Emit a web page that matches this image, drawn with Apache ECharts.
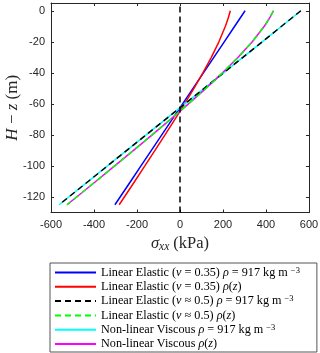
<!DOCTYPE html>
<html>
<head>
<meta charset="utf-8">
<script src="https://cdn.jsdelivr.net/npm/echarts@6/dist/echarts.min.js"></script>
<style>
  html, body { margin: 0; padding: 0; background: #fff; }
  #chart { width: 320px; height: 353px; }
</style>
</head>
<body>
<div id="chart"></div>
<script>
// depth coordinate H - z (m)
var depth = [0, -5, -10, -20, -30, -40, -50, -60, -70, -80, -90, -100, -110, -120, -125];

// sigma_xx (kPa) for each model
var elasticNu035Const = [302.7, 278.5, 254.3, 205.8, 157.4, 109.0, 60.5, 12.1, -36.3, -84.8, -133.2, -181.6, -230.0, -278.5, -302.7];
var elasticNu035Rho = [234.1, 223.7, 211.1, 181.0, 145.6, 106.6, 64.8, 21.2, -23.8, -69.8, -116.5, -163.6, -211.1, -258.9, -282.9];
var elasticNu05Const = [562.2, 517.2, 472.3, 382.3, 292.4, 202.4, 112.4, 22.5, -67.5, -157.5, -247.4, -337.4, -427.3, -517.3, -562.2];
var elasticNu05Rho = [434.8, 415.4, 392.1, 336.1, 270.4, 197.9, 120.4, 39.3, -44.2, -129.6, -216.3, -303.9, -392.1, -480.9, -525.4];
var viscousConst = [562.2, 517.2, 472.3, 382.3, 292.4, 202.4, 112.4, 22.5, -67.5, -157.5, -247.4, -337.4, -427.3, -517.3, -562.2];
var viscousRho = [434.8, 415.4, 392.1, 336.1, 270.4, 197.9, 120.4, 39.3, -44.2, -129.6, -216.3, -303.9, -392.1, -480.9, -525.4];

var xTicks = [-600, -400, -200, 0, 200, 400, 600];
var yTicks = [-120, -100, -80, -60, -40, -20, 0];

var names = [
  "Linear Elastic ({i|ν} = 0.35) {i|ρ} = 917 kg m {sup|−3}",
  "Linear Elastic ({i|ν} = 0.35) {i|ρ}({i|z})",
  "Linear Elastic ({i|ν} ≈ 0.5) {i|ρ} = 917 kg m {sup|−3}",
  "Linear Elastic ({i|ν} ≈ 0.5) {i|ρ}({i|z})",
  "Non-linear Viscous {i|ρ} = 917 kg m {sup|−3}",
  "Non-linear Viscous {i|ρ}({i|z})"
];

function pairs(vals) {
  return vals.map(function (v, i) { return [v, depth[i]]; });
}

var axisCol = "#262626";
var serif = "'Liberation Serif', 'DejaVu Serif', serif";
var sans = "'Liberation Sans', Arial, sans-serif";

function line(name, vals, color, dashed) {
  return {
    name: name,
    type: "line",
    data: pairs(vals),
    showSymbol: false,
    symbol: "none",
    animation: false,
    lineStyle: { color: color, width: 1.5, type: dashed ? [6, 4] : "solid" },
    itemStyle: { color: color }
  };
}

var chart = echarts.init(document.getElementById("chart"));

var blue = line(names[0], elasticNu035Const, "#0000ff", false);
blue.markLine = {
  silent: true,
  symbol: ["none", "none"],
  label: { show: false },
  animation: false,
  lineStyle: { color: "#000", width: 1.5, type: [6, 4] },
  data: [{ xAxis: 0 }]
};

var option = {
  animation: false,
  grid: { left: 51, right: 11, top: 3, height: 209.5, outerBoundsMode: "none", containLabel: false },
  xAxis: [
    {
      type: "value", min: -600, max: 600, interval: 200,
      axisLine: { onZero: false, lineStyle: { color: axisCol, width: 1 } },
      axisTick: { inside: true, length: 3, lineStyle: { color: axisCol } },
      axisLabel: { color: axisCol, fontSize: 11, fontFamily: sans, margin: 7,
        customValues: xTicks },
      splitLine: { show: false },
      name: "{i|σ}{s|xx} (kPa)",
      nameLocation: "middle",
      nameGap: 19,
      nameTextStyle: {
        fontFamily: serif, fontSize: 16.5, color: axisCol,
        rich: {
          i: { fontFamily: serif, fontSize: 16.5, fontStyle: "italic", color: axisCol },
          s: { fontFamily: serif, fontSize: 11.5, fontStyle: "italic", color: axisCol, padding: [6, 0, 0, 0] }
        }
      }
    },
    {
      type: "value", position: "top", min: -600, max: 600, interval: 200,
      axisLine: { onZero: false, lineStyle: { color: axisCol, width: 1 } },
      axisTick: { inside: true, length: 3, lineStyle: { color: axisCol } },
      axisLabel: { show: false },
      splitLine: { show: false }
    }
  ],
  yAxis: [
    {
      type: "value", min: -130, max: 5,
      axisLine: { show: true, onZero: false, lineStyle: { color: axisCol, width: 1 } },
      axisTick: { show: true, inside: true, length: 3, lineStyle: { color: axisCol },
        customValues: yTicks },
      axisLabel: { color: axisCol, fontSize: 11, fontFamily: sans, margin: 6,
        customValues: yTicks },
      splitLine: { show: false },
      name: "{i|H} − {i|z} (m)",
      nameLocation: "middle",
      nameRotate: 90,
      nameGap: 30,
      nameMoveOverlap: false,
      nameTextStyle: {
        fontFamily: serif, fontSize: 17, color: axisCol,
        rich: {
          i: { fontFamily: serif, fontSize: 17, fontStyle: "italic", color: axisCol }
        }
      }
    },
    {
      type: "value", position: "right", min: -130, max: 5,
      axisLine: { show: true, onZero: false, lineStyle: { color: axisCol, width: 1 } },
      axisTick: { show: true, inside: true, length: 3, lineStyle: { color: axisCol },
        customValues: yTicks },
      axisLabel: { show: false },
      splitLine: { show: false }
    }
  ],
  legend: {
    orient: "vertical",
    left: 50,
    top: 263,
    height: 90,
    padding: [3, 17, 2, 4],
    itemWidth: 41,
    itemHeight: 10,
    itemGap: 1.8,
    selectedMode: false,
    borderColor: "#555",
    borderWidth: 1,
    backgroundColor: "#fff",
    itemStyle: { opacity: 0 },
    data: names,
    textStyle: {
      fontFamily: serif, fontSize: 12.2, color: "#000", lineHeight: 10,
      rich: {
        i: { fontFamily: serif, fontSize: 12.2, fontStyle: "italic", color: "#000", lineHeight: 10 },
        sup: { fontFamily: serif, fontSize: 8.5, color: "#000", lineHeight: 10, padding: [0, 0, 4, 0] }
      }
    }
  },
  series: [
    blue,
    line(names[1], elasticNu035Rho, "#ff0000", false),
    line(names[4], viscousConst, "#00ffff", false),
    line(names[5], viscousRho, "#ff00ff", false),
    line(names[2], elasticNu05Const, "#000000", true),
    line(names[3], elasticNu05Rho, "#00ff00", true)
  ]
};

chart.setOption(option);
</script>
</body>
</html>
